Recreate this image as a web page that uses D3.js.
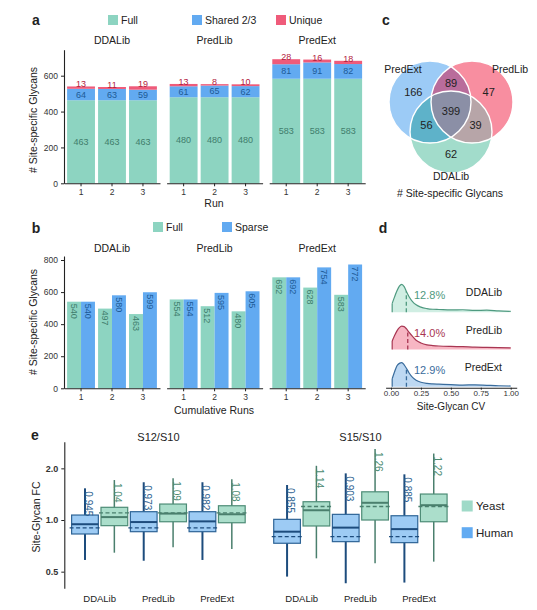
<!DOCTYPE html>
<html><head><meta charset="utf-8">
<script src="https://cdn.jsdelivr.net/npm/d3@7"></script>
<style>body{margin:0;background:#fff} svg{font-family:"Liberation Sans",Arial,sans-serif}</style>
</head><body>
<svg id="c" width="537" height="610"></svg>
<script>
// ---------- DATA ----------
const libs = ["DDALib","PredLib","PredExt"];
const runs = ["1","2","3"];
// panel a: stacked counts per library (rows) and run (cols)
const fullA   = [[463,463,463],[480,480,480],[583,583,583]];
const sharedA = [[64,63,59],[61,65,62],[81,91,82]];
const uniqueA = [[13,11,19],[13,8,10],[28,16,18]];
const ticksA = [0,200,400,600];
// panel b: cumulative runs
const fullB   = [[540,497,463],[554,512,480],[692,628,583]];
const sparseB = [[540,580,599],[554,595,605],[692,754,772]];
const ticksB = [0,200,400,600,800];
// panel c: venn counts
const vennSets = ["PredExt","PredLib","DDALib"];
const vennOnly = [166,47,62];               // PredExt, PredLib, DDALib only
const vennPairs = [["PredExt","PredLib",89],["PredExt","DDALib",56],["PredLib","DDALib",39]];
const vennAll = 399;
// panel d: CV density ridges
const cvGrid  = [0.01,0.03,0.05,0.07,0.09,0.11,0.13,0.15,0.18,0.21,0.25,0.30,0.35,0.40,0.50,0.60,0.70,0.80,0.90,1.00];
const densDDA = [1.9,3.3,4.6,5.6,6.0,5.5,4.4,3.4,2.3,1.6,1.1,0.8,0.65,0.6,0.5,0.55,0.4,0.45,0.3,0.2];
const densPL  = [1.8,3.0,4.0,4.7,5.0,4.9,4.4,3.7,2.8,2.0,1.4,1.0,0.85,0.75,0.65,0.6,0.5,0.45,0.4,0.35];
const densPE  = [1.7,3.2,4.5,5.0,5.15,4.7,3.9,3.0,2.0,1.4,0.95,0.7,0.6,0.55,0.45,0.35,0.4,0.3,0.2,0.15];
const medianCV = [0.128,0.140,0.129];
const cvTicks = [0,0.25,0.5,0.75,1.0];
// panel e: fold-change boxplots [low whisker, q1, median, q3, high whisker]
const ratios = ["S12/S10","S15/S10"];
const species = ["Human","Yeast"];
const humanS12 = [[0.585,0.829,0.945,1.069,1.53],[0.579,0.855,0.973,1.118,1.66],[0.585,0.855,0.982,1.118,1.66]];
const yeastS12 = [[0.645,0.927,1.04,1.186,1.71],[0.694,0.977,1.09,1.239,1.75],[0.678,0.964,1.08,1.211,1.73]];
const humanS15 = [[0.468,0.732,0.855,1.009,1.60],[0.428,0.748,0.903,1.079,1.87],[0.432,0.738,0.885,1.059,1.846]];
const yeastS15 = [[0.598,0.923,1.14,1.278,2.07],[0.56,1.0,1.26,1.46,2.59],[0.572,0.977,1.22,1.417,2.44]];
const expected = {"S12/S10":{Human:0.9,Yeast:1.1},"S15/S10":{Human:0.8,Yeast:1.2}};
const medLabels = {"S12/S10":{Human:["0.945","0.973","0.982"],Yeast:["1.04","1.09","1.08"]},
                   "S15/S10":{Human:["0.855","0.903","0.885"],Yeast:["1.14","1.26","1.22"]}};
const ticksE = [0.5,1.0,2.0];

// ---------- STYLE ----------
const svg = d3.select("#c");
const C = {full:"#8dd4c1", shared:"#62aaf1", unique:"#ef5b7a",
           fullTxt:"#3f7d6c", sharedTxt:"#1d5a96", uniqueTxt:"#b3223e"};
const TXT = "#222";

function styleAxis(g){
  g.attr("font-family",null).attr("font-size",null);
  g.selectAll("path.domain").attr("stroke","#222").attr("stroke-width",1.1);
  g.selectAll(".tick line").attr("stroke","#222");
  g.selectAll(".tick text").attr("fill","#333").attr("font-size",8.5);
}
function label(x,y,t,opt={}){
  const e = svg.append("text").attr("x",x).attr("y",y).text(t)
    .attr("font-size",opt.size||10.5).attr("fill",opt.fill||TXT)
    .attr("text-anchor",opt.anchor||"middle").attr("dominant-baseline","central");
  if(opt.bold) e.attr("font-weight","bold");
  if(opt.rot) e.attr("transform",`rotate(${opt.rot},${x},${y})`);
  return e;
}
function legendItem(x,y,color,t){
  svg.append("rect").attr("x",x).attr("y",y-5).attr("width",10).attr("height",10).attr("fill",color);
  label(x+13,y,t,{anchor:"start"});
}

const facetRange = i => [64 + i*102.6, 160 + i*102.6];

// ---------- PANEL A ----------
label(36,20,"a",{size:14,bold:true});
legendItem(108,20,C.full,"Full");
legendItem(192,20,C.shared,"Shared 2/3");
legendItem(276,20,C.unique,"Unique");
const yA = d3.scaleLinear().domain([0,745]).range([183.3,49.7]);
libs.forEach((lib,i)=>{
  const x = d3.scaleBand().domain(runs).range(facetRange(i)).paddingInner(0.1).paddingOuter(0.1);
  runs.forEach((r,j)=>{
    const f=fullA[i][j], s=sharedA[i][j], u=uniqueA[i][j];
    const segs = [[0,f,C.full,C.fullTxt,false],[f,f+s,C.shared,C.sharedTxt,false],[f+s,f+s+u,C.unique,C.uniqueTxt,true]];
    segs.forEach(([a,b,col,tc,top])=>{
      svg.append("rect").attr("x",x(r)).attr("width",x.bandwidth())
        .attr("y",yA(b)).attr("height",yA(a)-yA(b)).attr("fill",col);
      const t = svg.append("text").attr("x",x(r)+x.bandwidth()/2).attr("text-anchor","middle")
        .attr("font-size",9).attr("fill",tc).text(b-a);
      if(top) t.attr("y",yA(b)+1);
      else t.attr("y",(yA(a)+yA(b))/2).attr("dominant-baseline","central");
    });
  });
  const gx = svg.append("g").attr("transform",`translate(0,${yA(0)})`)
    .call(d3.axisBottom(x).tickSize(3).tickSizeOuter(0));
  styleAxis(gx);
  if(i===0){
    const gy = svg.append("g").attr("transform",`translate(${facetRange(0)[0]},0)`)
      .call(d3.axisLeft(yA).tickValues(ticksA).tickSize(3).tickSizeOuter(0));
    styleAxis(gy);
  }
  label((facetRange(i)[0]+facetRange(i)[1])/2,40,lib);
});
label(214,203,"Run");
label(33,120,"# Site-specific Glycans",{rot:-90});

// ---------- PANEL B ----------
label(36,228,"b",{size:14,bold:true});
legendItem(153,227,C.full,"Full");
legendItem(222,227,C.shared,"Sparse");
const yB = d3.scaleLinear().domain([0,825]).range([388.3,256]);
libs.forEach((lib,i)=>{
  const x = d3.scaleBand().domain(runs).range(facetRange(i)).paddingInner(0.1).paddingOuter(0.1);
  const sub = d3.scaleBand().domain(["Full","Sparse"]).range([0,x.bandwidth()]);
  runs.forEach((r,j)=>{
    [["Full",fullB[i][j],C.full,C.fullTxt],["Sparse",sparseB[i][j],C.shared,C.sharedTxt]].forEach(([k,v,col,tc])=>{
      const bx = x(r)+sub(k);
      svg.append("rect").attr("x",bx).attr("width",sub.bandwidth())
        .attr("y",yB(v)).attr("height",yB(0)-yB(v)).attr("fill",col);
      const cx = bx+sub.bandwidth()/2, cy = yB(v)+2;
      svg.append("text").attr("x",cx).attr("y",cy).attr("dy","0.35em").attr("font-size",9)
        .attr("fill",tc).attr("text-anchor","start").attr("transform",`rotate(90,${cx},${cy})`).text(v);
    });
  });
  const gx = svg.append("g").attr("transform",`translate(0,${yB(0)})`)
    .call(d3.axisBottom(x).tickSize(3).tickSizeOuter(0));
  styleAxis(gx);
  if(i===0){
    const gy = svg.append("g").attr("transform",`translate(${facetRange(0)[0]},0)`)
      .call(d3.axisLeft(yB).tickValues(ticksB).tickSize(3).tickSizeOuter(0));
    styleAxis(gy);
  }
  label((facetRange(i)[0]+facetRange(i)[1])/2,248,lib);
});
label(214,410,"Cumulative Runs");
label(33,322,"# Site-specific Glycans",{rot:-90});

// ---------- PANEL C (Venn) ----------
label(386,20,"c",{size:14,bold:true});
const vr = 41;
const vc = {PredExt:[430,102], PredLib:[472,102], DDALib:[451,132]};
const vCol = {PredExt:"#9ccbf6", PredLib:"#f88ea0", DDALib:"#a2dccb"};
const pairCol = {"PredExt|PredLib":"#b96c9b","PredExt|DDALib":"#5eb2c9","PredLib|DDALib":"#b7a5a8"};
const allCol = "#8b8fa6";
const defs = svg.append("defs");
vennSets.forEach(s=>{
  defs.append("clipPath").attr("id","clip-"+s).append("circle")
    .attr("cx",vc[s][0]).attr("cy",vc[s][1]).attr("r",vr);
});
vennSets.forEach(s=>{
  svg.append("circle").attr("cx",vc[s][0]).attr("cy",vc[s][1]).attr("r",vr).attr("fill",vCol[s]);
});
vennPairs.forEach(([a,b])=>{
  svg.append("circle").attr("cx",vc[b][0]).attr("cy",vc[b][1]).attr("r",vr)
    .attr("fill",pairCol[a+"|"+b]).attr("clip-path",`url(#clip-${a})`);
});
svg.append("g").attr("clip-path","url(#clip-PredExt)")
  .append("g").attr("clip-path","url(#clip-PredLib)")
  .append("circle").attr("cx",vc.DDALib[0]).attr("cy",vc.DDALib[1]).attr("r",vr).attr("fill",allCol);
vennSets.forEach(s=>{
  svg.append("circle").attr("cx",vc[s][0]).attr("cy",vc[s][1]).attr("r",vr)
    .attr("fill","none").attr("stroke","#fff").attr("stroke-width",1.4);
});
// region centroids by sampling
const inside = (s,px,py)=> (px-vc[s][0])**2+(py-vc[s][1])**2 < vr*vr;
const acc = {};
for(let px=380;px<=525;px+=1){ for(let py=55;py<=180;py+=1){
  const key = vennSets.filter(s=>inside(s,px,py)).join("|");
  if(!key) continue;
  (acc[key] = acc[key]||[0,0,0]); acc[key][0]+=px; acc[key][1]+=py; acc[key][2]++;
}}
const cen = k => [acc[k][0]/acc[k][2], acc[k][1]/acc[k][2]];
vennSets.forEach((s,i)=>{ const p=cen(s); label(p[0],p[1],vennOnly[i],{size:11}); });
vennPairs.forEach(([a,b,v])=>{ const p=cen(a+"|"+b); label(p[0],p[1],v,{size:11}); });
{ const p=cen(vennSets.join("|")); label(p[0],p[1],vennAll,{size:11}); }
label(403,69,"PredExt");
label(510,69,"PredLib");
label(451,176,"DDALib");
label(450,193,"# Site-specific Glycans");

// ---------- PANEL D (ridges) ----------
label(383,228,"d",{size:14,bold:true});
const xD = d3.scaleLinear().domain([-0.045,1.05]).range([385.6,516.7]);
const ridgeLibs = ["DDALib","PredLib","PredExt"];
const ridgeDens = [densDDA,densPL,densPE];
const base = d3.scalePoint().domain(["PredExt","PredLib","DDALib"]).range([386.7,312.3]);
const hD = d3.scaleLinear().domain([0,6]).range([0,28]);
const rLine = ["#4f9a80","#a83652","#3a6c9c"];
const rFill = ["#d0eee3","#f7b6c3","#bdd8f2"];
ridgeLibs.forEach((lib,i)=>{
  const b = base(lib);
  const pts = cvGrid.map((c,k)=>[c,ridgeDens[i][k]]);
  const area = d3.area().x(d=>xD(d[0])).y0(b).y1(d=>b-hD(d[1])).curve(d3.curveMonotoneX);
  const line = d3.line().x(d=>xD(d[0])).y(d=>b-hD(d[1])).curve(d3.curveMonotoneX);
  svg.append("path").attr("d",area(pts)).attr("fill",rFill[i]);
  svg.append("path").attr("d",line(pts)).attr("fill","none").attr("stroke",rLine[i]).attr("stroke-width",1.2);
  svg.append("line").attr("x1",xD(cvGrid[0])).attr("x2",xD(cvGrid[0])).attr("y1",b).attr("y2",b-hD(ridgeDens[i][0]))
    .attr("stroke",rLine[i]).attr("stroke-width",1.2);
  // height at median from curve
  const k = d3.bisectLeft(cvGrid, medianCV[i]);
  const t = (medianCV[i]-cvGrid[k-1])/(cvGrid[k]-cvGrid[k-1]);
  const hm = ridgeDens[i][k-1]*(1-t)+ridgeDens[i][k]*t;
  svg.append("line").attr("x1",xD(medianCV[i])).attr("x2",xD(medianCV[i])).attr("y1",b).attr("y2",b-hD(hm))
    .attr("stroke",rLine[i]).attr("stroke-width",1.3).attr("stroke-dasharray","4,2.5");
  label(414,b-17,(medianCV[i]*100).toFixed(1)+"%",{anchor:"start",size:11,fill:rLine[i]});
  label(502,b-20,lib,{anchor:"end",size:10.5});
});
const gd = svg.append("g").attr("transform","translate(0,387.7)")
  .call(d3.axisBottom(xD).tickValues(cvTicks).tickFormat(d3.format(".2f")).tickSize(2).tickPadding(1).tickSizeOuter(0));
styleAxis(gd);
gd.selectAll(".tick text").attr("font-size",8);
label(451,406,"Site-Glycan CV",{size:10});

// ---------- PANEL E (boxplots) ----------
label(35,435,"e",{size:14,bold:true});
const yE = d3.scaleLog().domain([0.40,2.86]).range([588.3,441.7]);
const gyE = svg.append("g").attr("transform","translate(64.3,0)")
  .call(d3.axisLeft(yE).tickValues(ticksE).tickFormat(d3.format(".1f")).tickSize(3).tickSizeOuter(0));
styleAxis(gyE);
gyE.selectAll(".tick text").attr("font-size",9).attr("font-weight","bold").attr("fill","#333");
label(36,517,"Site-Glycan FC",{rot:-90});
const eRanges = {"S12/S10":[70.3,246.5],"S15/S10":[272.4,448.4]};
const eData = {"S12/S10":{Human:humanS12,Yeast:yeastS12},"S15/S10":{Human:humanS15,Yeast:yeastS15}};
const eStyle = {Human:{fill:"#9dcbf4",stroke:"#2e6496",wh:"#1d4c7d",whW:2,txt:"#2d5f90"},
                Yeast:{fill:"#abdecb",stroke:"#4d8c76",wh:"#4a7f6d",whW:1.5,txt:"#4b8a72"}};
ratios.forEach(rt=>{
  const xg = d3.scaleBand().domain(libs).range(eRanges[rt]);
  const xs = d3.scaleBand().domain(species).range([0,xg.bandwidth()]);
  const bw = xs.bandwidth()*0.91;
  label((eRanges[rt][0]+eRanges[rt][1])/2,436.7,rt,{size:11});
  libs.forEach((lib,i)=>{
    label(xg(lib)+xg.bandwidth()/2,598,lib,{size:9.5});
    species.forEach(sp=>{
      const [lo,q1,md,q3,hi] = eData[rt][sp][i];
      const st = eStyle[sp];
      const cx = xg(lib)+xs(sp)+xs.bandwidth()/2;
      svg.append("line").attr("x1",cx).attr("x2",cx).attr("y1",yE(hi)).attr("y2",yE(lo))
        .attr("stroke",st.wh).attr("stroke-width",st.whW);
      svg.append("rect").attr("x",cx-bw/2).attr("width",bw).attr("y",yE(q3)).attr("height",yE(q1)-yE(q3))
        .attr("fill",st.fill).attr("stroke",st.stroke).attr("stroke-width",1.2);
      svg.append("line").attr("x1",cx-bw/2).attr("x2",cx+bw/2).attr("y1",yE(md)).attr("y2",yE(md))
        .attr("stroke",st.wh).attr("stroke-width",2);
      const ev = expected[rt][sp];
      svg.append("line").attr("x1",cx-bw/2-2).attr("x2",cx+bw/2+2).attr("y1",yE(ev)).attr("y2",yE(ev))
        .attr("stroke",st.wh).attr("stroke-width",1.4).attr("stroke-dasharray","4,2.5");
      const ly = yE(hi)+3, lx = cx+3.5;
      svg.append("text").attr("x",lx).attr("y",ly).attr("dy","0.35em").attr("font-size",10)
        .attr("fill",st.txt).attr("transform",`rotate(90,${lx},${ly})`).text(medLabels[rt][sp][i]);
    });
  });
});
// legend e
[["Yeast","#9fdac8",506],["Human","#62abf2",532.7]].forEach(([t,c,y])=>{
  svg.append("rect").attr("x",461.7).attr("y",y-5.5).attr("width",11).attr("height",11).attr("fill",c);
  label(476,y,t,{anchor:"start",size:11.5});
});
</script>
</body></html>
